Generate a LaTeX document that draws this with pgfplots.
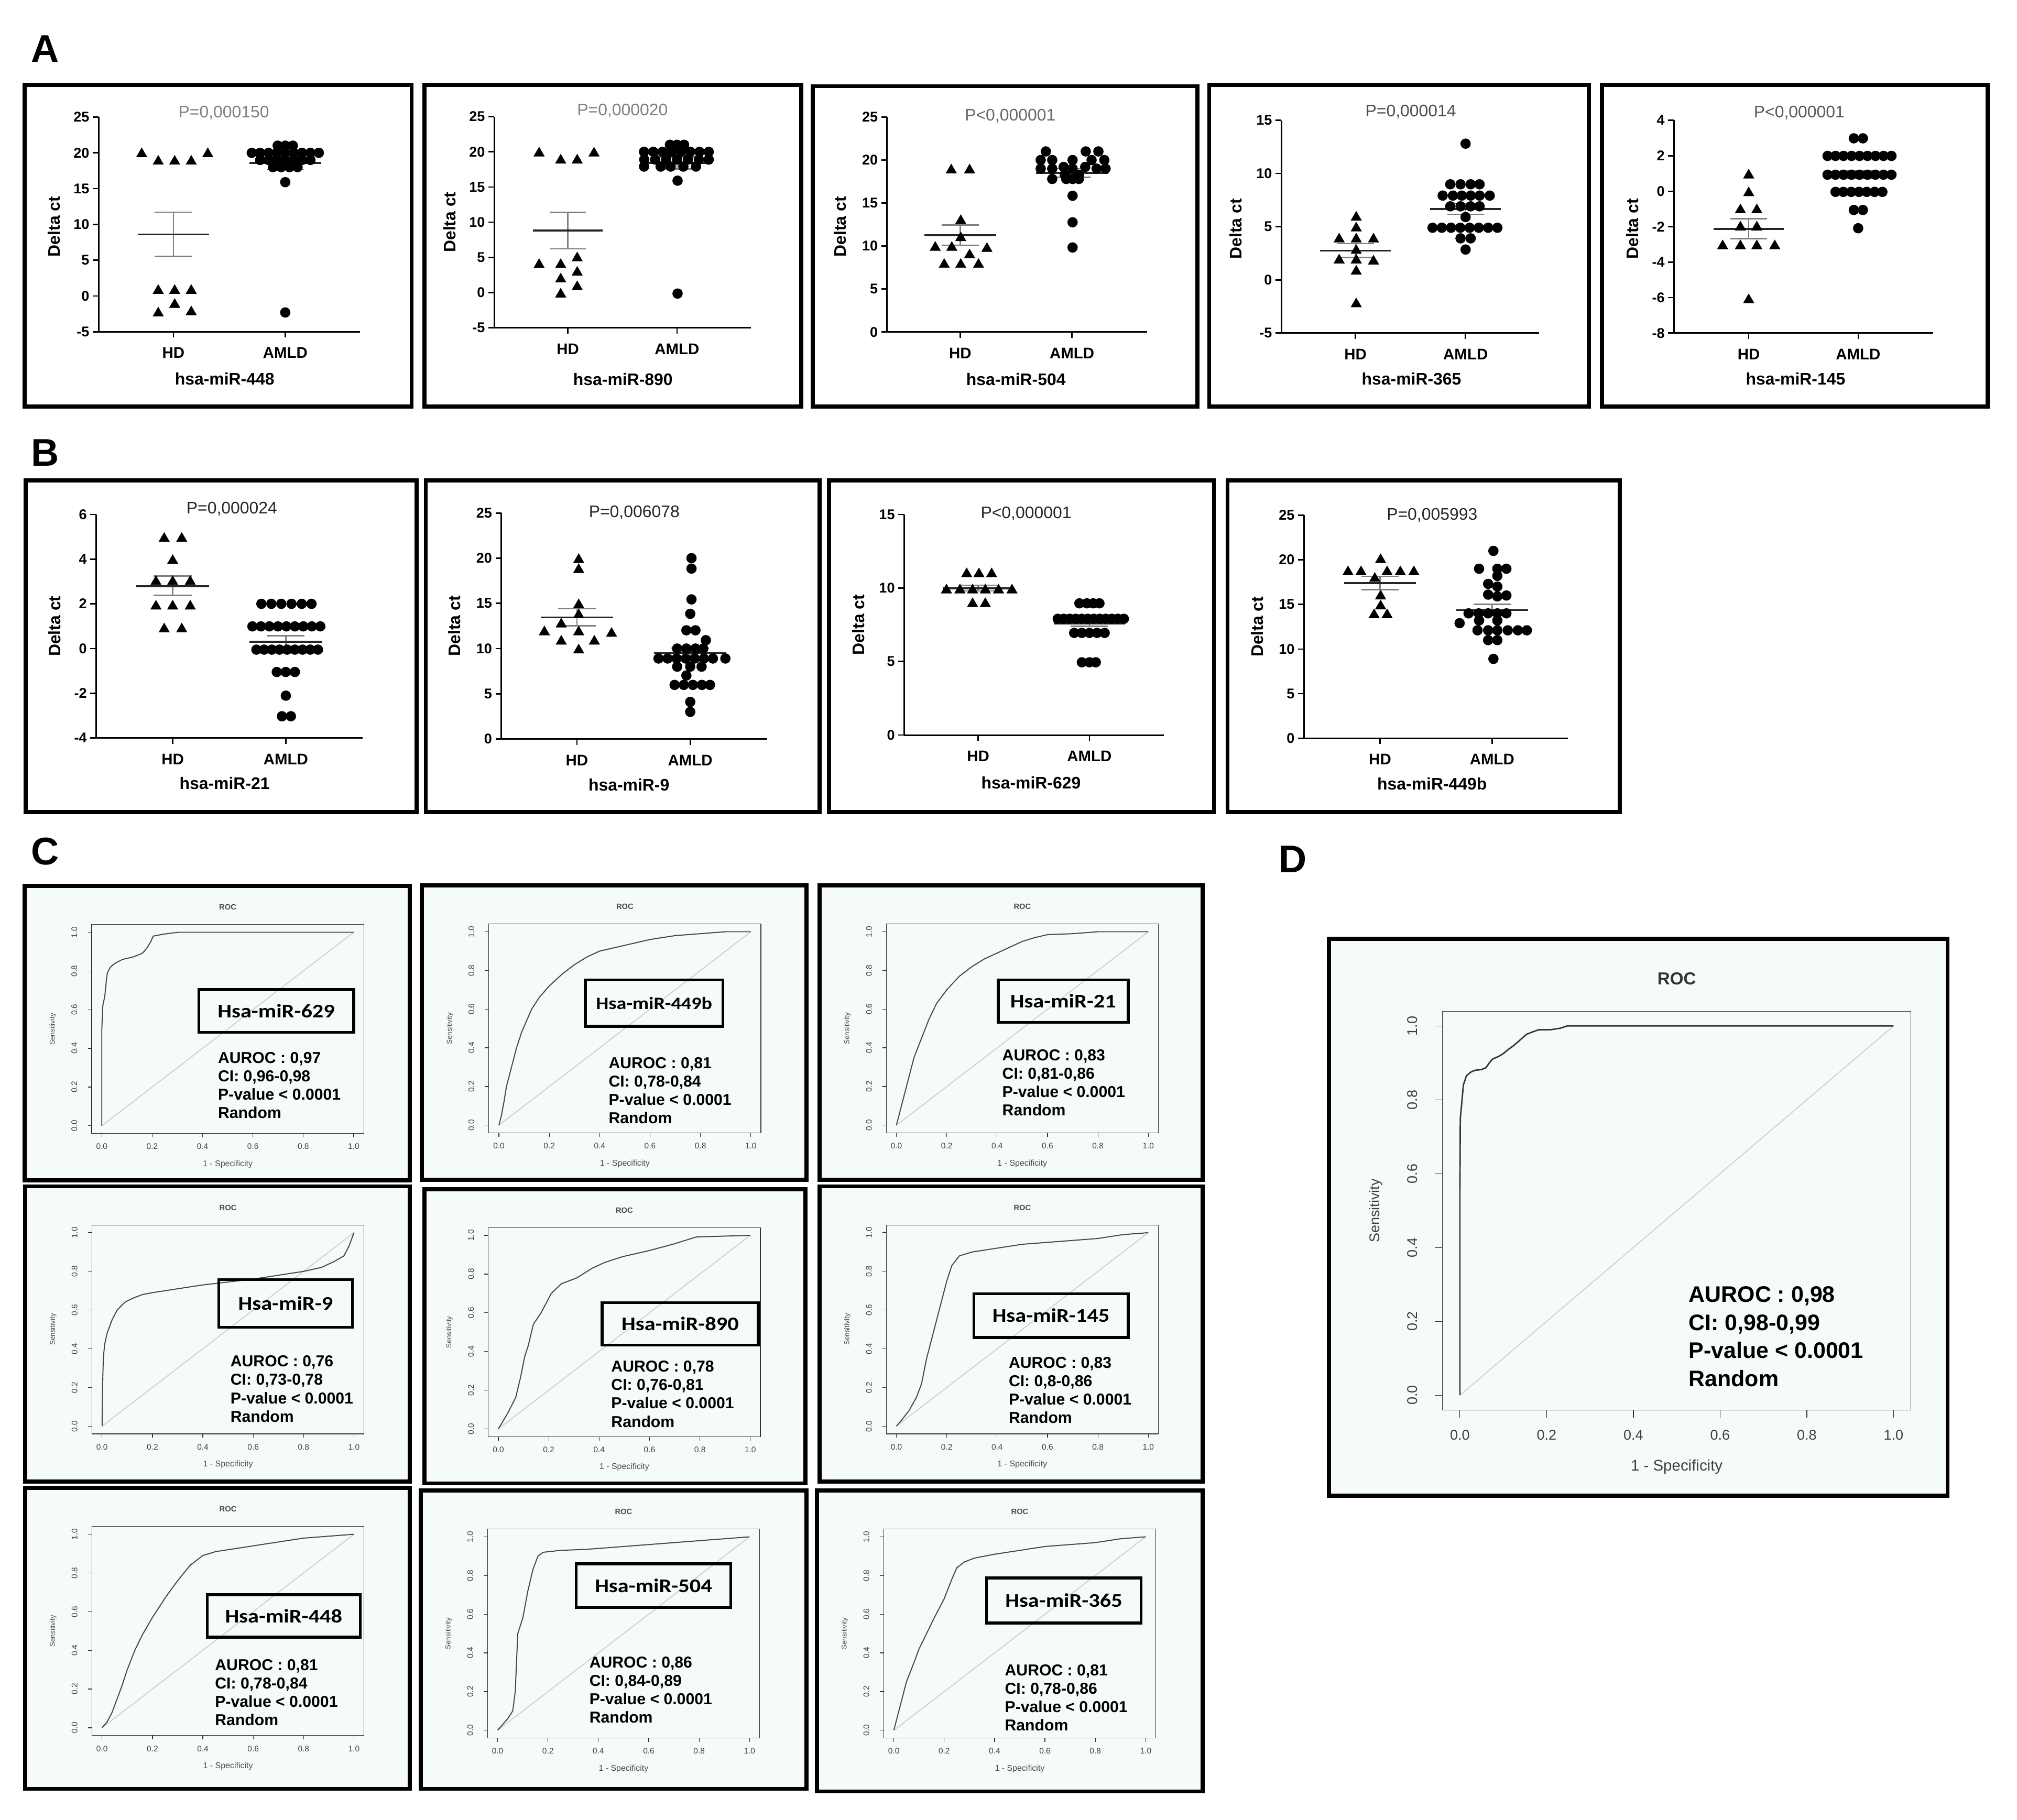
\documentclass[border=0pt]{standalone}
\usepackage{fontspec}
\setmainfont{Liberation Sans}
\newfontfamily\calb[FakeStretch=1.15]{Carlito}
\usepackage{pgfplots}
\pgfplotsset{compat=1.18}
\definecolor{rocbg}{HTML}{F5FAFB}
\definecolor{semg}{gray}{0.5}

\newcommand{\msemHD}[3]{%
 \addplot[semg, line width=1.1pt] coordinates {(0.833,#2) (1.167,#2)};
 \addplot[semg, line width=1.1pt] coordinates {(0.833,#3) (1.167,#3)};
 \addplot[semg, line width=1.1pt] coordinates {(1,#2) (1,#3)};
 \addplot[black!85, line width=1.5pt] coordinates {(0.68,#1) (1.32,#1)};}
\newcommand{\msemAM}[3]{%
 \addplot[semg, line width=1.1pt] coordinates {(1.833,#2) (2.167,#2)};
 \addplot[semg, line width=1.1pt] coordinates {(1.833,#3) (2.167,#3)};
 \addplot[semg, line width=1.1pt] coordinates {(2,#2) (2,#3)};
 \addplot[black!85, line width=1.5pt] coordinates {(1.68,#1) (2.32,#1)};}

\pgfplotsset{
 dot/.style={scale only axis, anchor=south west, clip=false,
  axis x line=bottom, axis y line=left,
  axis line style={-, line width=1.2pt},
  every tick/.style={black, line width=1.1pt},
  major tick length=4.5pt, tick align=outside,
  xtick={1,2}, xticklabels={HD,AMLD},
  /pgf/number format/assume math mode=true,
  yticklabel style={font=\bfseries\fontsize{11}{11}\selectfont, inner sep=2.5pt},
  xticklabel style={font=\bfseries\fontsize{12}{12}\selectfont, anchor=center},
  xticklabel shift=12pt,
  every axis title/.style={anchor=center, font=\fontsize{13}{13}\selectfont},
  every axis x label/.style={anchor=center, font=\bfseries\fontsize{13}{13}\selectfont},
  every axis y label/.style={anchor=center, rotate=90, font=\bfseries\fontsize{13}{13}\selectfont}},
 tri/.style={only marks, mark=triangle*, mark size=4.6pt, black},
 cir/.style={only marks, mark=*, mark size=3.8pt, black},
 roc/.style={scale only axis, anchor=north west,
  xmin=-0.04, xmax=1.04, ymin=-0.04, ymax=1.04,
  axis line style={black!80, line width=0.5pt},
  every tick/.style={black!80, line width=0.5pt},
  xtick={0,0.2,0.4,0.6,0.8,1}, ytick={0,0.2,0.4,0.6,0.8,1},
  xtick pos=left, ytick pos=left, tick align=outside,
  /pgf/number format/fixed, /pgf/number format/fixed zerofill,
  /pgf/number format/precision=1, /pgf/number format/assume math mode=true,
  xticklabel style={anchor=center}, yticklabel style={anchor=center, rotate=90},
  title={ROC}, xlabel={1 - Specificity}, ylabel={Sensitivity}},
 rocC/.style={roc, width=211.5pt, height=162.5pt, major tick length=3pt,
  tick label style={font=\fontsize{6.3}{6.3}\selectfont, text=black!75},
  xticklabel shift=7.2pt, yticklabel shift=10.5pt,
  every axis title/.style={at={(rel axis cs:0.5,1)}, anchor=center, yshift=13.4pt, font=\bfseries\fontsize{6}{6}\selectfont, text=black!70},
  every axis x label/.style={at={(rel axis cs:0.5,0)}, anchor=center, yshift=-23.8pt, font=\fontsize{6.5}{6.5}\selectfont, text=black!70},
  every axis y label/.style={at={(axis description cs:-0.143,0.5)}, rotate=90, anchor=center, font=\fontsize{5.5}{5.5}\selectfont, text=black!70}},
 rocD/.style={roc, width=364.1pt, height=310.1pt, major tick length=6pt,
  tick label style={font=\fontsize{11}{11}\selectfont, text=black!75},
  xticklabel shift=13.6pt, yticklabel shift=17.3pt,
  every axis title/.style={at={(rel axis cs:0.5,1)}, anchor=center, yshift=25.3pt, font=\bfseries\fontsize{13.5}{13.5}\selectfont, text=black!80},
  every axis x label/.style={at={(rel axis cs:0.5,0)}, anchor=center, yshift=-44.3pt, font=\fontsize{12}{12}\selectfont, text=black!75},
  every axis y label/.style={at={(axis description cs:-0.142,0.5)}, rotate=90, anchor=center, font=\fontsize{11}{11}\selectfont, text=black!75}},
 curve/.style={black!72, line width=0.8pt},
 diag/.style={black!22, line width=0.6pt},
}
\newcommand{\pbox}[4]{\draw[line width=3.2pt] (#1pt,-#2pt) rectangle (#3pt,-#4pt);}
\newcommand{\rbox}[4]{\draw[line width=3.2pt, fill=rocbg] (#1pt,-#2pt) rectangle (#3pt,-#4pt);}
\newcommand{\lbox}[6][15]{\draw[line width=2.2pt] (#2pt,-#3pt) rectangle (#4pt,-#5pt);
 \node[font=\calb\bfseries\fontsize{#1}{#1}\selectfont] at ({(#2+#4)/2*1pt},{-(#3+#5)/2*1pt}) {#6};}
\newcommand{\stats}[4]{\node[anchor=north west, inner sep=0pt, align=left, font=\bfseries\fontsize{12.3}{14.3}\selectfont] at (#1pt,-#2pt) {AUROC : #3\\CI: #4\\P-value < 0.0001\\Random};}

\begin{document}
\begin{tikzpicture}
\useasboundingbox (0,0) rectangle (1568pt,-1415pt);
\fill[white] (0,0) rectangle (1568pt,-1415pt);
\node[font=\bfseries\fontsize{30}{30}\selectfont] at (35pt,-38pt) {A};
\node[font=\bfseries\fontsize{30}{30}\selectfont] at (35pt,-352pt) {B};
\node[font=\bfseries\fontsize{30}{30}\selectfont] at (35pt,-662pt) {C};
\node[font=\bfseries\fontsize{30}{30}\selectfont] at (1005pt,-668pt) {D};

\pbox{19}{66}{320}{316}
\pbox{330}{66}{623}{316}
\pbox{632}{67}{931}{316}
\pbox{940}{66}{1235}{316}
\pbox{1245.5}{66}{1545}{316}
\pbox{20}{373.6}{324}{631.6}
\pbox{331}{373.5}{637}{631.6}
\pbox{644.5}{373.5}{943.7}{631.6}
\pbox{954.3}{373.5}{1259.2}{631.6}

\rbox{19.3}{688.9}{318.4}{917.9}
\rbox{328}{688.5}{627}{917.5}
\rbox{637}{688.5}{935}{917.5}
\rbox{19.5}{922.5}{318.5}{1152}
\rbox{329.9}{924.9}{626}{1153.5}
\rbox{637}{922.5}{935}{1152}
\rbox{19.5}{1157}{318.5}{1391}
\rbox{327}{1159}{627}{1391}
\rbox{635}{1159}{935}{1393}
\rbox{1033}{730}{1514}{1163}

% ---------------- A1 hsa-miR-448
\begin{axis}[dot, at={(76.6pt,-258pt)}, width=203.4pt, height=167pt,
 xmin=0.33, xmax=2.67, ymin=-5, ymax=25, ytick distance=5,
 title={P=0,000150}, title style={at={(axis description cs:0.479,1.02)}, text=black!50},
 ylabel={Delta ct}, ylabel style={at={(axis description cs:-0.17,0.49)}},
 xlabel={hsa-miR-448}, xlabel style={at={(axis description cs:0.482,-0.22)}}]
\addplot[tri] coordinates {(0.716,19.85) (0.864,18.8) (1.011,18.8) (1.159,18.8) (1.307,19.85)
 (0.864,0.75) (1.011,0.75) (1.159,0.75) (1.011,-1.2) (0.864,-2.4) (1.159,-2.24)};
\addplot[cir] coordinates {(1.932,21) (2,21) (2.068,21)
 (1.7,20) (1.775,20) (1.85,20) (1.925,20) (2,20) (2.075,20) (2.15,20) (2.225,20) (2.3,20)
 (1.775,19) (1.85,19) (1.925,19) (2,19) (2.075,19) (2.15,19) (2.225,19)
 (1.89,18) (1.963,18) (2.037,18) (2.11,18) (2,15.9) (2,-2.3)};
\msemHD{8.6}{5.5}{11.7}
\msemAM{18.6}{17.7}{19.5}
\end{axis}

% ---------------- A2 hsa-miR-890
\begin{axis}[dot, at={(384.2pt,-254.8pt)}, width=199.4pt, height=164.1pt,
 xmin=0.326, xmax=2.675, ymin=-5, ymax=25, ytick distance=5,
 title={P=0,000020}, title style={at={(axis description cs:0.5,1.029)}, text=black!50},
 ylabel={Delta ct}, ylabel style={at={(axis description cs:-0.174,0.5)}},
 xlabel={hsa-miR-890}, xlabel style={at={(axis description cs:0.502,-0.244)}}]
\addplot[tri] coordinates {(0.737,19.8) (0.935,18.8) (1.086,18.8) (1.24,19.8) (0.737,3.95) (0.935,3.95)
 (1.086,4.9) (0.935,1.9) (1.086,2.85) (1.086,0.8) (0.935,-0.25)};
\addplot[cir] coordinates {(1.935,21) (2,21) (2.065,21)
 (1.698,20) (1.783,20) (1.867,20) (1.952,20) (2.037,20) (2.121,20) (2.206,20) (2.29,20)
 (1.7,18.9) (1.8,18.9) (1.9,18.9) (2,18.9) (2.1,18.9) (2.2,18.9) (2.29,18.9)
 (1.698,17.9) (1.85,17.9) (1.942,17.9) (2.058,17.9) (2.174,17.9) (2.005,15.9) (2.005,-0.15)};
\msemHD{8.8}{6.2}{11.4}
\msemAM{18.4}{17.55}{19.25}
\end{axis}

% ---------------- A3 hsa-miR-504
\begin{axis}[dot, at={(689.6pt,-258.2pt)}, width=202pt, height=167.2pt,
 xmin=0.346, xmax=2.67, ymin=0, ymax=25, ytick distance=5,
 title={P<0,000001}, title style={at={(axis description cs:0.474,1.005)}, text=black!60},
 ylabel={Delta ct}, ylabel style={at={(axis description cs:-0.181,0.49)}},
 xlabel={hsa-miR-504}, xlabel style={at={(axis description cs:0.496,-0.219)}}]
\addplot[tri] coordinates {(0.92,18.83) (1.084,18.83) (1.005,12.94) (1.005,10.95) (0.777,9.83) (0.925,9.83)
 (1.239,9.7) (1.084,8.96) (0.857,7.84) (1.005,7.84) (1.164,7.84)};
\addplot[cir] coordinates {(1.766,21) (2.123,21) (2.236,21)
 (1.72,20) (1.823,20) (2.005,20) (2.175,20) (2.289,20)
 (1.925,19.2) (2.118,19.2)
 (1.72,19) (1.823,19) (2.005,19) (2.22,19) (2.3,19)
 (1.936,18.3) (2.061,18.3)
 (1.823,17.8) (1.948,17.8) (2.005,17.8) (2.061,17.8)
 (2.005,15.85) (2.005,12.76) (2.005,9.83)};
\msemHD{11.24}{10.07}{12.44}
\msemAM{18.5}{18.0}{19.0}
\end{axis}

% ---------------- A4 hsa-miR-365
\begin{axis}[dot, at={(996.1pt,-259pt)}, width=200.4pt, height=165.5pt,
 xmin=0.327, xmax=2.668, ymin=-5, ymax=15, ytick distance=5,
 title={P=0,000014}, title style={at={(axis description cs:0.502,1.04)}, text=black!70},
 ylabel={Delta ct}, ylabel style={at={(axis description cs:-0.177,0.49)}},
 xlabel={hsa-miR-365}, xlabel style={at={(axis description cs:0.505,-0.216)}}]
\addplot[tri] coordinates {(1.007,5.87) (1.007,4.86) (0.852,3.82) (1.007,3.82) (1.164,3.82) (1.007,2.75)
 (0.852,1.85) (1.007,1.85) (1.164,1.75) (1.007,0.8) (1.007,-2.27)};
\addplot[cir] coordinates {(2,12.8)
 (1.861,8.98) (1.954,8.98) (2.046,8.98) (2.127,8.98)
 (1.792,7.92) (1.885,7.92) (1.965,7.92) (2.046,7.92) (2.127,7.92) (2.219,7.92)
 (1.861,6.91) (1.954,6.91) (2.046,6.91) (2.127,6.91) (2,5.9)
 (1.7,4.9) (1.784,4.9) (1.868,4.9) (1.952,4.9) (2.036,4.9) (2.12,4.9) (2.205,4.9) (2.289,4.9)
 (1.954,3.9) (2.046,3.9) (2,2.85)};
\msemHD{2.75}{2.1}{3.4}
\msemAM{6.67}{6.17}{7.17}
\end{axis}

% ---------------- A5 hsa-miR-145
\begin{axis}[dot, at={(1301.3pt,-259pt)}, width=201.6pt, height=165.5pt,
 xmin=0.317, xmax=2.686, ymin=-8, ymax=4, ytick distance=2,
 title={P<0,000001}, title style={at={(axis description cs:0.483,1.035)}, text=black!65},
 ylabel={Delta ct}, ylabel style={at={(axis description cs:-0.161,0.49)}},
 xlabel={hsa-miR-145}, xlabel style={at={(axis description cs:0.469,-0.216)}}]
\addplot[tri] coordinates {(1,0.9) (1,-0.1) (0.924,-1.06) (1.074,-1.06) (0.924,-2.03) (1.074,-2.03)
 (0.762,-3.09) (0.924,-3.09) (1.074,-3.09) (1.238,-3.09) (1,-6.13)};
\addplot[cir] coordinates {(1.96,2.98) (2.043,2.98)
 (1.72,1.99) (1.793,1.99) (1.866,1.99) (1.939,1.99) (2.012,1.99) (2.085,1.99) (2.158,1.99) (2.231,1.99) (2.304,1.99)
 (1.72,0.93) (1.793,0.93) (1.866,0.93) (1.939,0.93) (2.012,0.93) (2.085,0.93) (2.158,0.93) (2.231,0.93) (2.304,0.93)
 (1.793,-0.04) (1.864,-0.04) (1.936,-0.04) (2.007,-0.04) (2.078,-0.04) (2.15,-0.04) (2.221,-0.04)
 (1.96,-1.06) (2.043,-1.06) (2,-2.09)};
\msemHD{-2.12}{-2.67}{-1.56}
\msemAM{0.93}{0.71}{1.15}
\end{axis}

% ---------------- B1 hsa-miR-21
\begin{axis}[dot, at={(74.7pt,-573.8pt)}, width=207.3pt, height=173.8pt,
 xmin=0.323, xmax=2.68, ymin=-4, ymax=6, ytick distance=2,
 title={P=0,000024}, title style={at={(axis description cs:0.509,1.024)}, text=black!85},
 ylabel={Delta ct}, ylabel style={at={(axis description cs:-0.156,0.5)}},
 xlabel={hsa-miR-21}, xlabel style={at={(axis description cs:0.482,-0.204)}}]
\addplot[tri] coordinates {(0.925,4.92) (1.08,4.92) (1.0,3.93) (0.852,2.99) (1.0,2.99) (1.155,2.99)
 (0.852,1.89) (1.0,1.89) (1.155,1.89) (0.925,0.87) (1.08,0.87)};
\addplot[cir] coordinates {(1.784,2) (1.872,2) (1.96,2) (2.05,2) (2.14,2) (2.227,2)
 (1.705,0.99) (1.78,0.99) (1.855,0.99) (1.93,0.99) (2.005,0.99) (2.08,0.99) (2.155,0.99) (2.23,0.99) (2.305,0.99)
 (1.74,-0.05) (1.808,-0.05) (1.876,-0.05) (1.944,-0.05) (2.012,-0.05) (2.08,-0.05) (2.148,-0.05) (2.216,-0.05) (2.284,-0.05)
 (1.92,-1.05) (2,-1.05) (2.08,-1.05) (2,-2.11) (1.966,-3.03) (2.045,-3.03)};
\msemHD{2.79}{2.38}{3.25}
\msemAM{0.3}{0.05}{0.57}
\end{axis}

% ---------------- B2 hsa-miR-9
\begin{axis}[dot, at={(389.7pt,-574.6pt)}, width=206.7pt, height=175.7pt,
 xmin=0.333, xmax=2.679, ymin=0, ymax=25, ytick distance=5,
 title={P=0,006078}, title style={at={(axis description cs:0.5,1.003)}, text=black!85},
 ylabel={Delta ct}, ylabel style={at={(axis description cs:-0.176,0.5)}},
 xlabel={hsa-miR-9}, xlabel style={at={(axis description cs:0.48,-0.202)}}]
\addplot[tri] coordinates {(1.016,19.83) (1.016,18.73) (1.016,14.83) (1.016,13.73) (0.862,12.7) (0.713,11.83)
 (1.016,11.83) (1.306,11.66) (0.862,10.8) (1.154,10.8) (1.016,9.83)};
\addplot[cir] coordinates {(2.011,20.0) (2.011,18.85) (2.011,15.44) (2,13.85) (1.966,12.02) (2.046,12.02) (2.138,10.93)
 (1.885,10) (1.966,10) (2.046,10) (2.115,10)
 (1.72,8.9) (1.8,8.9) (1.88,8.9) (1.96,8.9) (2.04,8.9) (2.12,8.9) (2.2,8.9) (2.31,8.9)
 (1.885,8) (2,8) (2.1,8) (1.966,7.02)
 (1.862,5.98) (1.943,5.98) (2.023,5.98) (2.103,5.98) (2.175,5.98) (2,4.1) (2,3.0)};
\msemHD{13.45}{12.5}{14.4}
\msemAM{9.5}{8.95}{10.05}
\end{axis}

% ---------------- B3 hsa-miR-629
\begin{axis}[dot, at={(702.8pt,-571.6pt)}, width=201.8pt, height=171.5pt,
 xmin=0.334, xmax=2.667, ymin=0, ymax=15, ytick distance=5,
 title={P<0,000001}, title style={at={(axis description cs:0.47,1.005)}, text=black!85},
 ylabel={Delta ct}, ylabel style={at={(axis description cs:-0.176,0.5)}},
 xlabel={hsa-miR-629}, xlabel style={at={(axis description cs:0.489,-0.215)}}]
\addplot[tri] coordinates {(0.897,10.96) (1.007,10.96) (1.121,10.96)
 (0.715,9.86) (0.836,9.86) (0.95,9.86) (1.064,9.86) (1.183,9.86) (1.304,9.86)
 (0.95,8.93) (1.064,8.93)};
\addplot[cir] coordinates {(1.91,8.96) (1.977,8.96) (2.034,8.96) (2.09,8.96)
 (1.715,7.91) (1.769,7.91) (1.823,7.91) (1.877,7.91) (1.931,7.91) (1.985,7.91) (2.039,7.91) (2.093,7.91) (2.147,7.91) (2.201,7.91) (2.255,7.91) (2.309,7.91)
 (1.863,6.95) (1.932,6.95) (2,6.95) (2.068,6.95) (2.137,6.95)
 (1.932,4.95) (2,4.95) (2.057,4.95)};
\msemHD{9.99}{9.8}{10.2}
\msemAM{7.6}{7.4}{7.8}
\end{axis}

% ---------------- B4 hsa-miR-449b
\begin{axis}[dot, at={(1013.6pt,-574.1pt)}, width=205.1pt, height=173.5pt,
 xmin=0.32, xmax=2.675, ymin=0, ymax=25, ytick distance=5,
 title={P=0,005993}, title style={at={(axis description cs:0.486,1.0)}, text=black!85},
 ylabel={Delta ct}, ylabel style={at={(axis description cs:-0.176,0.5)}},
 xlabel={hsa-miR-449b}, xlabel style={at={(axis description cs:0.486,-0.203)}}]
\addplot[tri] coordinates {(1.005,20.0) (0.714,18.64) (0.83,18.64) (1.063,18.64) (1.181,18.64) (1.302,18.64)
 (0.953,17.9) (1.005,15.93) (1.005,14.81) (0.947,13.83) (1.063,13.83)};
\addplot[cir] coordinates {(2.012,21.0) (1.884,19.0) (2.047,19.0) (2.128,19.0) (2.047,18.2)
 (1.965,17.3) (2.047,17.0) (1.965,16.1) (2.047,15.9) (2.128,16.0)
 (1.79,14.0) (1.88,14.0) (1.965,14.0) (2.047,14.0) (2.128,14.0) (1.71,12.9)
 (1.884,13.2) (2.047,13.2)
 (1.87,12.1) (1.965,12.1) (2.047,12.1) (2.14,12.1) (2.23,12.1) (2.31,12.1)
 (1.965,11.0) (2.047,11.0) (2.012,8.9)};
\msemHD{17.41}{16.67}{18.15}
\msemAM{14.37}{13.75}{15.0}
\end{axis}

% ================= C ROC panels
\begin{axis}[rocC, at={(71.3pt,-718.9pt)}]
\addplot[diag] coordinates {(0,0) (1,1)};
\addplot[curve] coordinates {(0,0) (0,0.5) (0.004,0.62) (0.012,0.67) (0.018,0.75) (0.022,0.79) (0.032,0.815) (0.042,0.83) (0.06,0.845) (0.083,0.86) (0.1,0.865) (0.123,0.872) (0.15,0.885) (0.163,0.894) (0.18,0.92) (0.194,0.95) (0.204,0.98) (0.244,0.99) (0.304,1) (1,1)};
\end{axis}
\begin{axis}[rocC, at={(380pt,-718.5pt)}]
\addplot[diag] coordinates {(0,0) (1,1)};
\addplot[curve] coordinates {(0,0) (0.01,0.05) (0.02,0.12) (0.03,0.2) (0.05,0.3) (0.07,0.4) (0.09,0.48) (0.11,0.54) (0.13,0.6) (0.16,0.66) (0.2,0.72) (0.25,0.78) (0.3,0.83) (0.35,0.87) (0.4,0.9) (0.5,0.93) (0.6,0.96) (0.7,0.98) (0.8,0.99) (0.9,1) (1,1)};
\end{axis}
\begin{axis}[rocC, at={(689pt,-718.5pt)}]
\addplot[diag] coordinates {(0,0) (1,1)};
\addplot[curve] coordinates {(0,0) (0.01,0.05) (0.03,0.15) (0.05,0.25) (0.07,0.35) (0.1,0.45) (0.13,0.55) (0.16,0.63) (0.2,0.7) (0.25,0.77) (0.3,0.82) (0.35,0.86) (0.4,0.89) (0.45,0.92) (0.5,0.95) (0.55,0.97) (0.6,0.985) (0.7,0.99) (0.8,1) (1,1)};
\end{axis}
\begin{axis}[rocC, at={(71.5pt,-952.5pt)}]
\addplot[diag] coordinates {(0,0) (1,1)};
\addplot[curve] coordinates {(0,0) (0.002,0.2) (0.005,0.35) (0.01,0.42) (0.02,0.48) (0.04,0.55) (0.06,0.6) (0.09,0.64) (0.12,0.66) (0.16,0.68) (0.2,0.69) (0.25,0.7) (0.3,0.71) (0.4,0.73) (0.5,0.745) (0.6,0.76) (0.7,0.78) (0.8,0.8) (0.87,0.82) (0.92,0.85) (0.96,0.88) (0.98,0.93) (1,1)};
\end{axis}
\begin{axis}[rocC, at={(379.6pt,-954.6pt)}]
\addplot[diag] coordinates {(0,0) (1,1)};
\addplot[curve] coordinates {(0,0) (0.038,0.083) (0.069,0.163) (0.089,0.272) (0.104,0.372) (0.119,0.432) (0.139,0.541) (0.17,0.601) (0.21,0.7) (0.25,0.75) (0.311,0.78) (0.372,0.83) (0.422,0.86) (0.493,0.89) (0.594,0.92) (0.695,0.955) (0.786,0.992) (1,1)};
\end{axis}
\begin{axis}[rocC, at={(689pt,-952.5pt)}]
\addplot[diag] coordinates {(0,0) (1,1)};
\addplot[curve] coordinates {(0,0) (0.02,0.03) (0.05,0.08) (0.08,0.15) (0.1,0.22) (0.12,0.35) (0.14,0.45) (0.16,0.55) (0.18,0.65) (0.2,0.75) (0.22,0.83) (0.25,0.88) (0.3,0.9) (0.4,0.92) (0.5,0.94) (0.6,0.95) (0.7,0.96) (0.8,0.97) (0.9,0.99) (1,1)};
\end{axis}
\begin{axis}[rocC, at={(71.5pt,-1187pt)}]
\addplot[diag] coordinates {(0,0) (1,1)};
\addplot[curve] coordinates {(0,0) (0.02,0.03) (0.04,0.08) (0.06,0.15) (0.08,0.22) (0.1,0.3) (0.13,0.4) (0.16,0.48) (0.2,0.57) (0.25,0.67) (0.3,0.76) (0.35,0.84) (0.4,0.89) (0.45,0.91) (0.5,0.92) (0.6,0.94) (0.7,0.96) (0.8,0.98) (0.9,0.99) (1,1)};
\end{axis}
\begin{axis}[rocC, at={(379pt,-1189pt)}]
\addplot[diag] coordinates {(0,0) (1,1)};
\addplot[curve] coordinates {(0,0) (0.02,0.03) (0.04,0.06) (0.06,0.1) (0.07,0.2) (0.075,0.35) (0.08,0.5) (0.1,0.58) (0.12,0.72) (0.14,0.83) (0.16,0.9) (0.18,0.92) (0.25,0.93) (0.35,0.935) (0.5,0.95) (0.6,0.96) (0.7,0.97) (0.8,0.98) (0.9,0.99) (1,1)};
\end{axis}
\begin{axis}[rocC, at={(687pt,-1189pt)}]
\addplot[diag] coordinates {(0,0) (1,1)};
\addplot[curve] coordinates {(0,0) (0.01,0.05) (0.03,0.15) (0.05,0.25) (0.08,0.35) (0.1,0.42) (0.13,0.5) (0.16,0.58) (0.2,0.68) (0.23,0.78) (0.25,0.84) (0.28,0.87) (0.32,0.89) (0.4,0.91) (0.5,0.93) (0.6,0.95) (0.7,0.96) (0.8,0.97) (0.9,0.99) (1,1)};
\end{axis}

% ================= D
\begin{axis}[rocD, at={(1121.4pt,-786.3pt)}]
\addplot[diag] coordinates {(0,0) (1,1)};
\addplot[black!80, line width=1.1pt] coordinates {(0,0) (0,0.55) (0.001,0.75) (0.005,0.80) (0.008,0.84) (0.015,0.865) (0.025,0.875) (0.035,0.88) (0.05,0.882) (0.06,0.887) (0.068,0.9) (0.075,0.91) (0.09,0.918) (0.1,0.925) (0.11,0.935) (0.123,0.946) (0.135,0.958) (0.153,0.977) (0.17,0.985) (0.183,0.99) (0.21,0.99) (0.232,0.994) (0.247,1) (1,1)};
\end{axis}

% labels and stats
\lbox{154.5}{769.5}{275}{802.7}{Hsa-miR-629}
\lbox[13.5]{455}{762}{562}{798}{Hsa-miR-449b}
\lbox{776}{762}{877}{795}{Hsa-miR-21}
\lbox{170}{995}{274}{1032}{Hsa-miR-9}
\lbox{468}{1013}{589.5}{1046}{Hsa-miR-890}
\lbox{757}{1006}{877}{1040}{Hsa-miR-145}
\lbox{161}{1240}{280}{1273}{Hsa-miR-448}
\lbox{448}{1216}{568}{1250}{Hsa-miR-504}
\lbox{767}{1227}{887}{1262}{Hsa-miR-365}
\stats{169.3}{818}{0,97}{0,96-0,98}
\stats{473}{822}{0,81}{0,78-0,84}
\stats{779}{816}{0,83}{0,81-0,86}
\stats{179}{1054}{0,76}{0,73-0,78}
\stats{475}{1058}{0,78}{0,76-0,81}
\stats{784}{1055}{0,83}{0,8-0,86}
\stats{167}{1290}{0,81}{0,78-0,84}
\stats{458}{1288}{0,86}{0,84-0,89}
\stats{781}{1294}{0,81}{0,78-0,86}
\node[anchor=north west, inner sep=0pt, align=left, font=\bfseries\fontsize{17.5}{21.8}\selectfont] at (1312.6pt,-1000.3pt) {AUROC : 0,98\\CI: 0,98-0,99\\P-value < 0.0001\\Random};
\end{tikzpicture}
\end{document}
